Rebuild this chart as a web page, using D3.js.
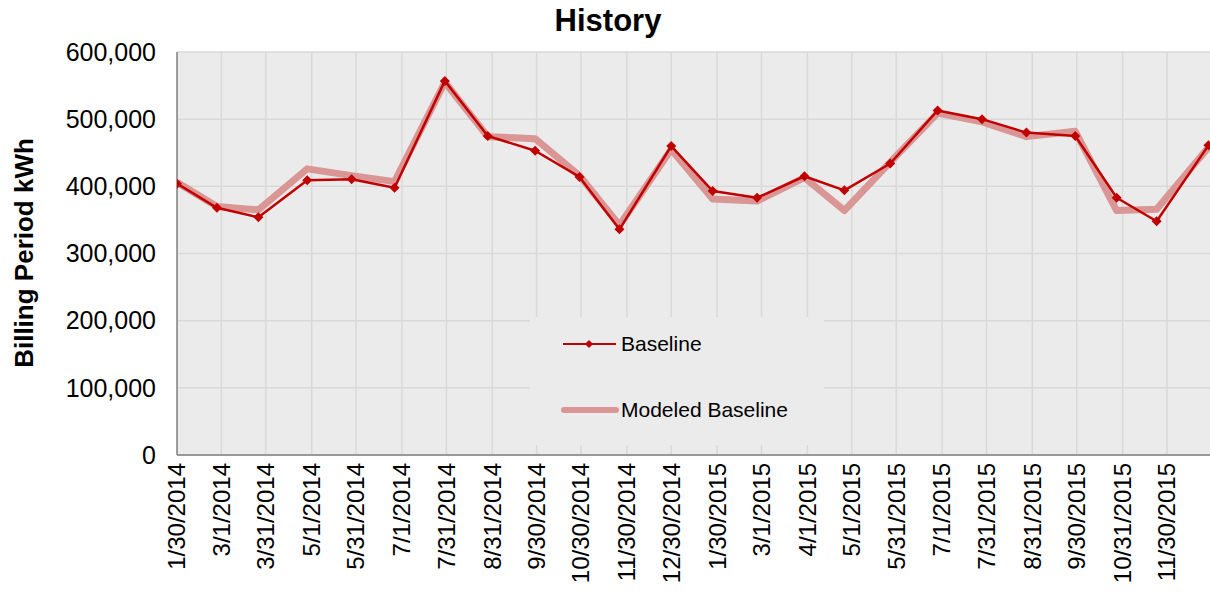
<!DOCTYPE html>
<html>
<head>
<meta charset="utf-8">
<script src="https://cdn.jsdelivr.net/npm/d3@7"></script>
<style>
  body { margin: 0; background: #fff; }
  svg { display: block; font-family: "Liberation Sans", Arial, sans-serif; }
</style>
</head>
<body>
<div id="chart"></div>
<script>
// tick dates shown under the axis
var tickLabels = ["1/30/2014", "3/1/2014", "3/31/2014", "5/1/2014", "5/31/2014", "7/1/2014",
  "7/31/2014", "8/31/2014", "9/30/2014", "10/30/2014", "11/30/2014", "12/30/2014",
  "1/30/2015", "3/1/2015", "4/1/2015", "5/1/2015", "5/31/2015", "7/1/2015",
  "7/31/2015", "8/31/2015", "9/30/2015", "10/31/2015", "11/30/2015"];

// billing period end dates (estimated from point positions)
var pointDates = ["1/30/2014", "2/26/2014", "3/26/2014", "4/28/2014", "5/28/2014", "6/26/2014",
  "7/30/2014", "8/28/2014", "9/29/2014", "10/29/2014", "11/25/2014", "12/30/2014",
  "1/27/2015", "2/26/2015", "3/30/2015", "4/26/2015", "5/27/2015", "6/28/2015",
  "7/28/2015", "8/27/2015", "9/29/2015", "10/27/2015", "11/23/2015", "12/28/2015"];

var baseline = [404000, 368000, 354000, 409000, 410500, 398000,
  557000, 475000, 453000, 414000, 336000, 460000,
  393000, 383000, 415000, 394000, 434000, 513000,
  500000, 480000, 475000, 383000, 348000, 461000];

var modeled = [406000, 370000, 365000, 426000, 416000, 407000,
  555000, 474000, 471000, 416000, 342000, 455000,
  381000, 378000, 413000, 364000, 436000, 509000,
  496000, 474000, 482000, 364000, 366000, 458000];

var yTicks = [0, 100000, 200000, 300000, 400000, 500000, 600000];

var W = 1210, H = 594;
var padL = 177, padT = 52, padB = 455;
var parse = d3.timeParse("%m/%d/%Y");

var svg = d3.select("#chart").append("svg")
  .attr("width", W)
  .attr("height", H);

var x = d3.scaleTime()
  .domain([parse("1/30/2014"), parse("11/30/2015")])
  .range([padL, 1167]);

var y = d3.scaleLinear()
  .domain([0, 600000])
  .range([padB, padT]);

svg.append("clipPath").attr("id", "plot")
  .append("rect")
  .attr("x", padL).attr("y", padT - 10)
  .attr("width", W - padL).attr("height", padB - padT + 20);

// plot background
svg.append("rect")
  .attr("x", padL).attr("y", padT)
  .attr("width", W - padL).attr("height", padB - padT)
  .attr("fill", "#ebebeb");

var grid = svg.append("g").attr("clip-path", "url(#plot)");

grid.selectAll("line.h")
  .data(yTicks)
  .enter()
  .append("line")
  .attr("x1", padL).attr("x2", W)
  .attr("y1", function(d) { return y(d); })
  .attr("y2", function(d) { return y(d); })
  .attr("stroke", "#d9d9d9")
  .attr("stroke-width", 1.5);

grid.selectAll("line.v")
  .data(tickLabels)
  .enter()
  .append("line")
  .attr("x1", function(d) { return x(parse(d)); })
  .attr("x2", function(d) { return x(parse(d)); })
  .attr("y1", padT).attr("y2", padB)
  .attr("stroke", "#d9d9d9")
  .attr("stroke-width", 1.5);

// axes lines
svg.append("line")
  .attr("x1", padL).attr("x2", padL)
  .attr("y1", padT).attr("y2", padB)
  .attr("stroke", "#808080").attr("stroke-width", 1.5);
svg.append("line")
  .attr("x1", padL).attr("x2", W)
  .attr("y1", padB).attr("y2", padB)
  .attr("stroke", "#808080").attr("stroke-width", 1.5);

// legend box sits in the plot, covering gridlines
svg.append("rect")
  .attr("x", 530).attr("y", 317)
  .attr("width", 294).attr("height", 128)
  .attr("fill", "#ebebeb");

var lines = svg.append("g").attr("clip-path", "url(#plot)");

var line = function(vals) {
  return d3.line()
    .x(function(d, i) { return x(parse(pointDates[i])); })
    .y(function(d) { return y(d); })(vals);
};

lines.append("path")
  .attr("d", line(modeled))
  .attr("fill", "none")
  .attr("stroke", "#da9694")
  .attr("stroke-width", 7)
  .attr("stroke-linejoin", "round");

lines.append("path")
  .attr("d", line(baseline))
  .attr("fill", "none")
  .attr("stroke", "#c00000")
  .attr("stroke-width", 2.5)
  .attr("stroke-linejoin", "round");

// excel style diamond: a square turned 45 degrees
var diamond = d3.symbol().type(d3.symbolSquare).size(50);

lines.selectAll("path.mk")
  .data(baseline)
  .enter()
  .append("path")
  .attr("d", diamond)
  .attr("transform", function(d, i) {
    return "translate(" + x(parse(pointDates[i])) + "," + y(d) + ") rotate(45)";
  })
  .attr("fill", "#c00000");

// y tick labels
svg.selectAll("text.yt")
  .data(yTicks)
  .enter()
  .append("text")
  .text(function(d) { return d3.format(",")(d); })
  .attr("x", 156)
  .attr("y", function(d) { return y(d); })
  .attr("dy", "0.35em")
  .attr("text-anchor", "end")
  .attr("font-size", "25px")
  .attr("fill", "#000");

// x tick labels, rotated
svg.selectAll("text.xt")
  .data(tickLabels)
  .enter()
  .append("text")
  .text(function(d) { return d; })
  .attr("text-anchor", "end")
  .attr("dy", "0.35em")
  .attr("font-size", "24px")
  .attr("transform", function(d) {
    return "translate(" + x(parse(d)) + "," + 463 + ") rotate(-90)";
  });

// title
svg.append("text")
  .text("History")
  .attr("x", 608).attr("y", 31)
  .attr("text-anchor", "middle")
  .attr("font-size", "31px")
  .attr("font-weight", "bold");

svg.append("text")
  .text("Billing Period kWh")
  .attr("text-anchor", "middle")
  .attr("font-size", "26px")
  .attr("font-weight", "bold")
  .attr("transform", "translate(33,253) rotate(-90)");

// legend
var lg = svg.append("g");
lg.append("line")
  .attr("x1", 563).attr("x2", 616)
  .attr("y1", 344).attr("y2", 344)
  .attr("stroke", "#c00000").attr("stroke-width", 2);
lg.append("path")
  .attr("d", d3.symbol().type(d3.symbolSquare).size(32))
  .attr("transform", "translate(589,344) rotate(45)")
  .attr("fill", "#c00000");
lg.append("text")
  .text("Baseline")
  .attr("x", 621).attr("y", 344)
  .attr("dy", "0.35em")
  .attr("font-size", "21px");

lg.append("line")
  .attr("x1", 564).attr("x2", 616)
  .attr("y1", 410).attr("y2", 410)
  .attr("stroke", "#da9694").attr("stroke-width", 6)
  .attr("stroke-linecap", "round");
lg.append("text")
  .text("Modeled Baseline")
  .attr("x", 621).attr("y", 410)
  .attr("dy", "0.35em")
  .attr("font-size", "21px");
</script>
</body>
</html>
